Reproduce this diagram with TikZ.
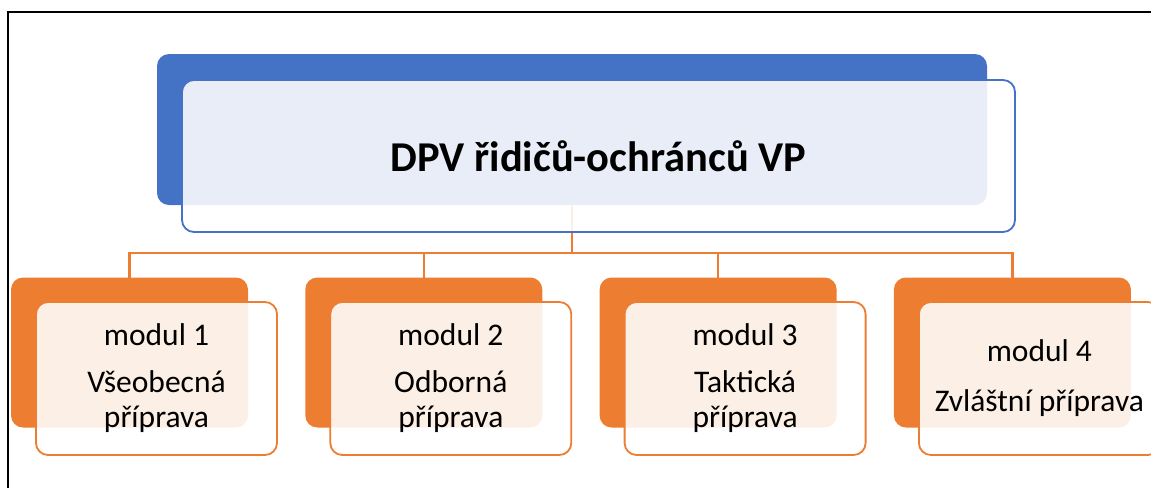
\documentclass[tikz,border=0pt]{standalone}
\usepackage{fontspec}
\setmainfont{Carlito}
\usepackage{tikz}
\usetikzlibrary{positioning}

\definecolor{dpvblue}{HTML}{4472C4}
\definecolor{dpvorange}{HTML}{ED7D31}

\begin{document}
\begin{tikzpicture}[x=1pt, y=1pt, node distance=294.3pt, on grid,
    backbox/.style={rectangle, rounded corners=12pt, inner sep=0pt, outer sep=0pt,
      fill=#1, minimum width=237pt, minimum height=150pt},
    frontbox/.style={rectangle, rounded corners=12pt, inner sep=0pt, outer sep=0pt,
      draw=#1, line width=1.8pt, fill=white, fill opacity=0.88, text opacity=1,
      minimum width=241pt, minimum height=153pt, align=center,
      font=\fontsize{31.5}{35}\selectfont},
    link/.style={draw=dpvorange, line width=2.5pt}]
   \useasboundingbox (0,0) rectangle (1151,-488);
   \draw[line width=1.5pt] (8,-488) -- (8,-12) -- (1151,-12);

   % dark back boxes
   \node[backbox=dpvblue, minimum width=830pt, minimum height=151pt] (top) at (572,-129.5) {};
   \node[backbox=dpvorange] (mod1) at (129.5,-352.5) {};
   \node[backbox=dpvorange] (mod2) [right=of mod1] {};
   \node[backbox=dpvorange] (mod3) [right=of mod2] {};
   \node[backbox=dpvorange] (mod4) [right=of mod3] {};

   % connectors
   \path (top.south) ++(0,-48) coordinate (hub);
   \draw[link] (top.south) -- (hub);
   \foreach \m in {1,...,4}
     \draw[link] (hub) -| (mod\m.north);

   % front boxes with text
   \node[frontbox=dpvblue, minimum width=833pt, minimum height=152pt,
     font=\bfseries\fontsize{42.5}{48}\selectfont] (title)
     [below right=26.5pt and 26.5pt of top] {DPV řidičů-ochránců VP};
   \node[frontbox=dpvorange] (txt1) [below right=26pt and 27pt of mod1] {modul 1\\[12pt]Všeobecná\\příprava};
   \node[frontbox=dpvorange] (txt2) [below right=26pt and 27pt of mod2] {modul 2\\[12pt]Odborná\\příprava};
   \node[frontbox=dpvorange] (txt3) [below right=26pt and 27pt of mod3] {modul 3\\[12pt]Taktická\\příprava};
   \node[frontbox=dpvorange] (txt4) [below right=26pt and 27pt of mod4] {modul 4\\[15pt]Zvláštní příprava};
\end{tikzpicture}
\end{document}
